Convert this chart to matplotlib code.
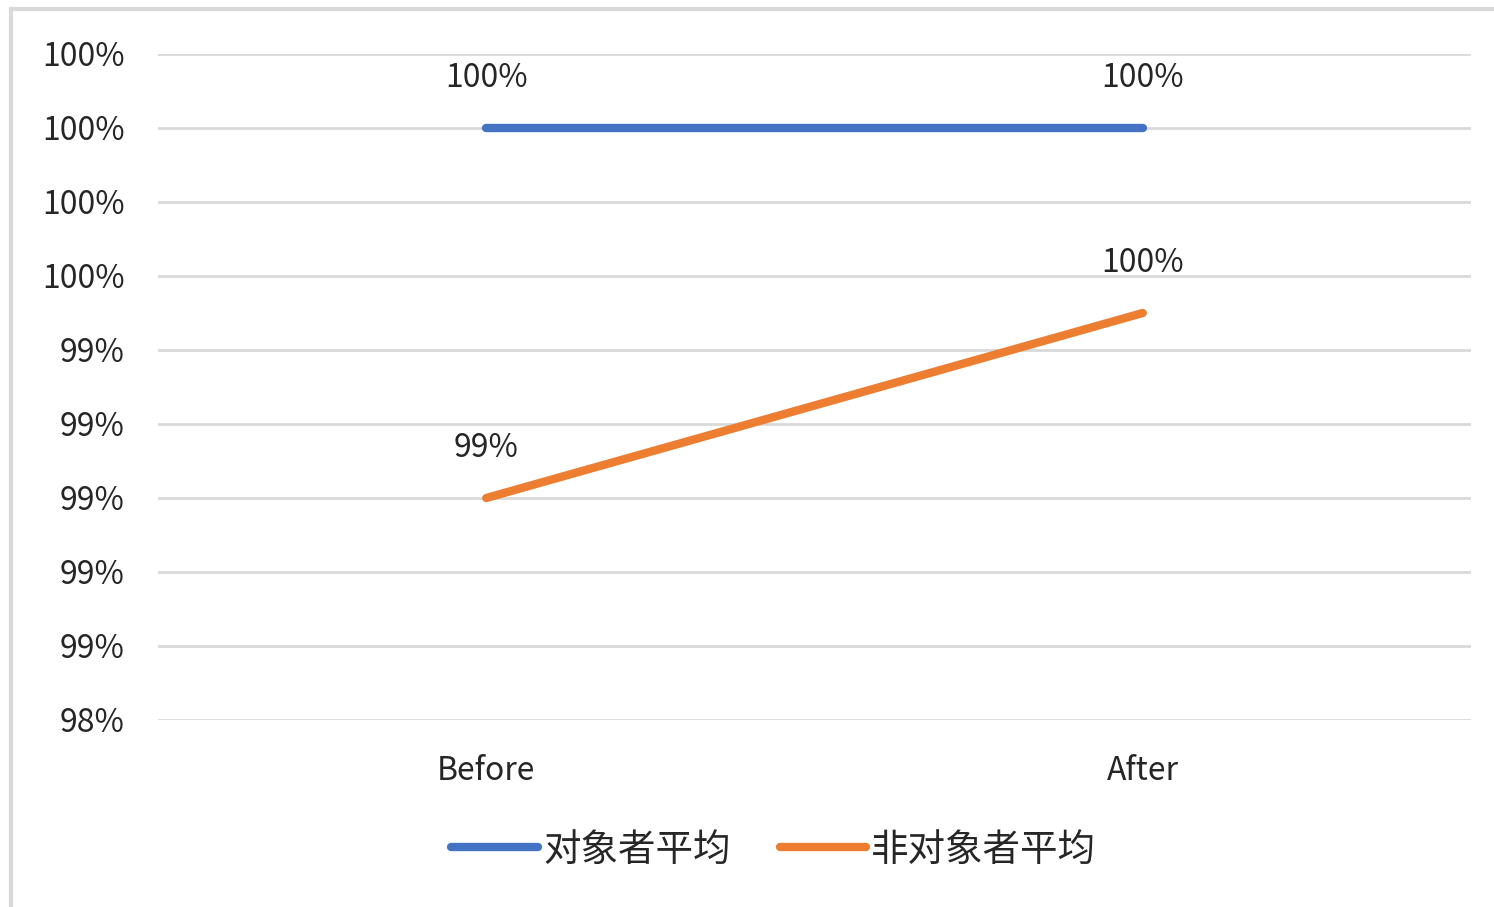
import matplotlib.pyplot as plt
from matplotlib.lines import Line2D
from matplotlib.ticker import FuncFormatter

plt.rcParams['font.family'] = ['Noto Sans CJK SC', 'DejaVu Sans']

# data
categories = ['Before', 'After']
target_avg = [1.000, 1.000]
nontarget_avg = [0.990, 0.995]
series_names = ['对象者平均', '非对象者平均']
y_ticks = [0.984, 0.986, 0.988, 0.990, 0.992, 0.994, 0.996, 0.998, 1.000, 1.002]

blue = '#4472C4'
orange = '#ED7D31'


def pct(v):
    return '%d%%' % int(v * 100 + 0.5 + 1e-9)


fig = plt.figure(figsize=(14.94, 9.07), dpi=100)
ax = fig.add_axes([158 / 1494, 1 - 720 / 907, (1471 - 158) / 1494, (720 - 54) / 907])

x = range(len(categories))
ax.plot(x, target_avg, color=blue, lw=6, solid_capstyle='round', zorder=3)
ax.plot(x, nontarget_avg, color=orange, lw=6, solid_capstyle='round', zorder=3)

# data labels
for xi, v in zip(x, target_avg):
    ax.annotate(pct(v), (xi, v), xytext=(0, 36), textcoords='offset points',
                ha='center', va='center', fontsize=23, color='#262626')
for xi, v in zip(x, nontarget_avg):
    ax.annotate(pct(v), (xi, v), xytext=(0, 36), textcoords='offset points',
                ha='center', va='center', fontsize=23, color='#262626')

ax.set_xlim(-0.5, 1.5)
ax.set_ylim(y_ticks[0], y_ticks[-1])
ax.set_yticks(y_ticks)
ax.yaxis.set_major_formatter(FuncFormatter(lambda v, p: pct(v)))
ax.set_xticks(list(x))
ax.set_xticklabels(categories)
ax.tick_params(axis='both', length=0, labelsize=23, labelcolor='#262626')
ax.tick_params(axis='y', pad=24)
ax.tick_params(axis='x', pad=25)
ax.grid(axis='y', color='#D9D9D9', lw=2)
ax.set_axisbelow(True)
for s in ax.spines.values():
    s.set_visible(False)

handles = [Line2D([0], [0], color=blue, lw=6, solid_capstyle='round'),
           Line2D([0], [0], color=orange, lw=6, solid_capstyle='round')]
fig.legend(handles, series_names, loc='center', bbox_to_anchor=(0.518, 1 - 850 / 907),
           ncol=2, frameon=False, fontsize=27, handlelength=2.3, handletextpad=0.15,
           columnspacing=1.3, labelcolor='#262626')

# outer chart border
fig.add_artist(Line2D([11 / 1494, 1], [1 - 9 / 907, 1 - 9 / 907], color='#D9D9D9', lw=3))
fig.add_artist(Line2D([11 / 1494, 11 / 1494], [0, 1 - 9 / 907], color='#D9D9D9', lw=3))

fig.savefig('out.png', dpi=100)
